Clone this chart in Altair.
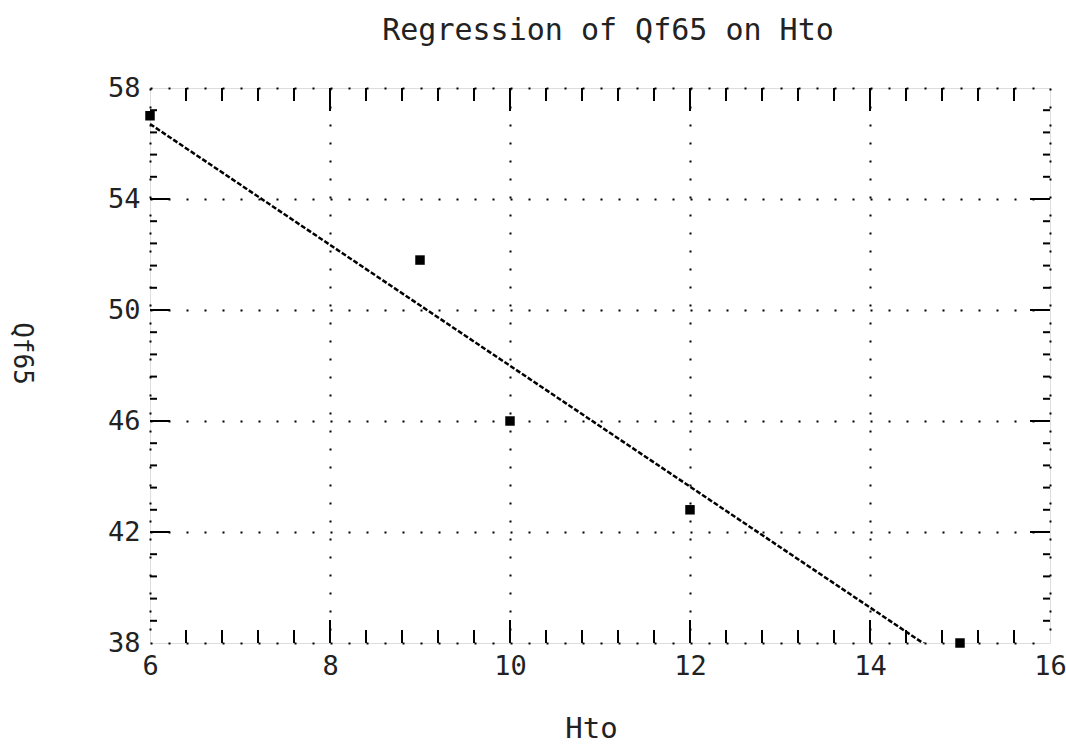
import altair as alt
import pandas as pd

# data
hto = [6, 9, 10, 12, 15]
qf65 = [57, 51.8, 46, 42.8, 38]

x_labels = [6, 8, 10, 12, 14, 16]
y_labels = [38, 42, 46, 50, 54, 58]
x_major_inner = [8, 10, 12, 14]
y_major_inner = [42, 46, 50, 54]
x_minor = [6.4, 6.8, 7.2, 7.6, 8.4, 8.8, 9.2, 9.6, 10.4, 10.8, 11.2, 11.6,
           12.4, 12.8, 13.2, 13.6, 14.4, 14.8, 15.2, 15.6]
y_minor = [38.8, 39.6, 40.4, 41.2, 42.8, 43.6, 44.4, 45.2, 46.8, 47.6, 48.4, 49.2,
           50.8, 51.6, 52.4, 53.2, 54.8, 55.6, 56.4, 57.2]

FONT = "DejaVu Sans Mono"
INK = "#222222"

pts = pd.DataFrame({"Hto": hto, "Qf65": qf65})
xmaj = pd.DataFrame({"v": x_major_inner})
ymaj = pd.DataFrame({"v": y_major_inner})
xmin = pd.DataFrame({"v": x_minor})
ymin = pd.DataFrame({"v": y_minor})

W, H = 900, 555

xscale = alt.Scale(domain=[6, 16], nice=False, zero=False)
yscale = alt.Scale(domain=[38, 58], nice=False, zero=False)

xaxis = alt.Axis(values=x_labels, format="d", labelFlush=False, labelOverlap=False,
                 grid=True, gridDash=[2, 16], gridColor="black",
                 gridWidth=2, ticks=False, domain=False, labelFont=FONT,
                 labelFontSize=27, labelColor=INK, labelPadding=10,
                 title="Hto", titleFont=FONT, titleFontSize=29, titleColor=INK,
                 titleFontWeight="normal", titleX=441, titleY=85,
                 titleBaseline="middle", titleAlign="center")
yaxis = alt.Axis(values=y_labels, format="d", labelFlush=False, labelOverlap=False,
                 grid=True, gridDash=[2, 16], gridColor="black",
                 gridWidth=2, ticks=False, domain=False, labelFont=FONT,
                 labelFontSize=27, labelColor=INK, labelPadding=10,
                 title="Qf65", titleFont=FONT, titleFontSize=26, titleColor=INK,
                 titleFontWeight="normal", titleAngle=90, titleX=-129, titleY=265,
                 titleBaseline="middle", titleAlign="center")

base_pts = alt.Chart(pts)

points = base_pts.mark_square(size=90, color="black", opacity=1).encode(
    x=alt.X("Hto:Q", scale=xscale, axis=xaxis),
    y=alt.Y("Qf65:Q", scale=yscale, axis=yaxis),
)

reg = base_pts.transform_regression("Hto", "Qf65", extent=[6, 16]).mark_line(
    color="black", strokeWidth=2.5, strokeDash=[5, 2], clip=True
).encode(
    x=alt.X("Hto:Q", scale=xscale),
    y=alt.Y("Qf65:Q", scale=yscale),
)

def xticks(df, length):
    bottom = alt.Chart(df).mark_rule(color="black", strokeWidth=2).encode(
        x=alt.X("v:Q", scale=xscale), y=alt.value(H), y2=alt.value(H - length))
    top = alt.Chart(df).mark_rule(color="black", strokeWidth=2).encode(
        x=alt.X("v:Q", scale=xscale), y=alt.value(0), y2=alt.value(length))
    return [bottom, top]

def yticks(df, length):
    left = alt.Chart(df).mark_rule(color="black", strokeWidth=2).encode(
        y=alt.Y("v:Q", scale=yscale), x=alt.value(0), x2=alt.value(length))
    right = alt.Chart(df).mark_rule(color="black", strokeWidth=2).encode(
        y=alt.Y("v:Q", scale=yscale), x=alt.value(W), x2=alt.value(W - length))
    return [left, right]

layers = [reg, points]
layers += xticks(xmaj, 23) + xticks(xmin, 13)
layers += yticks(ymaj, 20) + yticks(ymin, 7)

chart = alt.layer(*layers).properties(
    width=W, height=H,
    title=alt.TitleParams("Regression of Qf65 on Hto", font=FONT, fontSize=30,
                          fontWeight="normal", color=INK, anchor="middle",
                          frame="group", baseline="alphabetic", offset=4, dx=8),
    autosize=alt.AutoSizeParams(type="none"),
    padding={"left": 150, "top": 88, "right": 16, "bottom": 103},
).configure_view(stroke="black", strokeWidth=3).configure(background="white")

chart.save("out.html", embed_options={"renderer": "svg", "actions": False})
